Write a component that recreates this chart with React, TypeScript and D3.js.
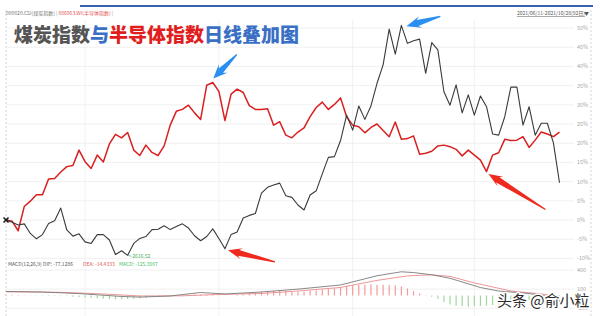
import React from 'react';
import * as d3 from 'd3';

const W = 600;
const H = 316;

// 煤炭指数 (black) cumulative % change, one value per trading day
const coal = [
  0, -0.6, -1.3, -1.0, -3.5, -4.9, -3.8, -0.9, -0.2, 3.1,
  -2.6, -4.2, -3.6, -5.7, -6.1, -3.8, -3.8, -5.2, -9.0, -8.0,
  -9.2, -6.1, -4.8, -4.3, -2.5, -2.4, -1.5, -2.5, -1.7, -1.0,
  -2.1, -4.1, -5.4, -4.3, -2.3, -4.8, -7.5, -3.8, -3.1, 0.5,
  1.2, 1.7, 7.0, 8.5, 9.1, 9.6, 6.3, 5.9, 3.9, 2.6,
  6.5, 7.6, 12.0, 16.3, 16.5, 20.7, 27.3, 23.4, 29.7, 26.2,
  29.7, 35.6, 40.4, 49.7, 43.2, 50.7, 46.0, 46.7, 47.1, 38.2,
  46.2, 44.3, 33.4, 29.9, 35.2, 27.9, 32.6, 27.3, 32.3, 29.5,
  22.4, 22.1, 26.9, 34.6, 34.6, 24.7, 29.5, 22.1, 25.2, 25.2,
  20.1, 9.7,
];

// 半导体指数 (red)
const semi = [
  0, -0.3, -2.8, 3.5, 4.9, 6.6, 6.6, 10.7, 10.8, 12.5,
  13.9, 14.2, 18.2, 15.2, 13.4, 16.9, 15.1, 19.8, 22.3, 21.4,
  22.8, 18.2, 16.8, 19.5, 17.6, 16.8, 19.3, 24.7, 28.3, 28.8,
  29.9, 27.9, 26.2, 35.1, 35.8, 33.5, 25.9, 32.8, 34.1, 33.2,
  29.8, 28.8, 28.8, 29.0, 24.7, 25.6, 22.1, 21.4, 22.9, 24.0,
  26.9, 29.3, 30.7, 28.8, 30.1, 31.8, 26.9, 24.7, 24.3, 22.7,
  24.1, 25.0, 23.3, 21.7, 25.5, 21.0, 21.2, 21.9, 17.1, 17.4,
  17.9, 19.3, 19.5, 19.1, 18.4, 16.7, 18.2, 16.9, 15.6, 12.6,
  16.9, 17.5, 21.0, 20.7, 20.8, 21.7, 18.9, 20.8, 22.9, 22.4,
  21.7, 22.9,
];

// MACD histogram (estimated per day)
const macdHist = [
  10, 12, 8, 5,
  -3, -5, -6, -8, -8, -10, -10,
  -20, -25, -30, -40, -45, -50, -55, -60, -60, -55, -50, -45,
  -35, -25, -15, -10, -5, 0, 5, 10,
  15, 20, 15, 10, 5, -5,
  0, 10, 20, 35, 45, 60, 70, 75, 80,
  70, 60, 55, 60, 70, 80, 90, 100, 110, 130, 150,
  160, 165, 170, 175, 170,
  170, 165, 160, 140, 110, 70, 30,
  -5, -20, -50,
  -100, -140, -160, -170, -175, -170, -165, -160,
  -150, -140, -120, -100, -90, -80, -70,
  -60, -50, -60, -90, -125,
];

const difDays = [0, 6, 12, 19, 22, 27, 32, 36, 42, 48, 55, 61, 65, 67, 70, 73, 78, 81, 85, 88, 91];
const difVals = [63, 55, 30, -15, -25, -8, 47, 24, 55, 100, 165, 310, 372, 360, 325, 270, 125, 70, 40, 8, -77];
const deaDays = [0, 9, 16, 22, 29, 35, 42, 48, 55, 61, 66, 70, 73, 77, 83, 88, 91];
const deaVals = [58, 50, 24, -8, -5, 16, 32, 70, 126, 237, 308, 324, 300, 197, 71, 24, -14];

const pctTicks = [50, 45, 40, 35, 30, 25, 20, 15, 10, 5, 0, -5, -10];
const macdTicks = [400, 100, -200];
const monthStarts = [13, 35, 57, 77];

const FONT = '"Noto Sans CJK SC", "Noto Sans", sans-serif';

function arrowPoints(tx: number, ty: number, ex: number, ey: number, headLen: number, headW: number, shaftW: number) {
  const dx = ex - tx, dy = ey - ty;
  const L = Math.hypot(dx, dy);
  const ux = dx / L, uy = dy / L;
  const nx = -uy, ny = ux;
  const p = (a: number, b: number) => [tx + ux * a + nx * b, ty + uy * a + ny * b];
  const pts = [
    p(0, 0),
    p(headLen, headW / 2),
    p(headLen * 0.78, shaftW / 2),
    p(L, 0.6),
    p(L, -0.6),
    p(headLen * 0.78, -shaftW / 2),
    p(headLen, -headW / 2),
  ];
  return pts.map((q) => q.map((v) => v.toFixed(1)).join(',')).join(' ');
}

export default function App() {
  const n = coal.length;
  const x = d3.scaleLinear().domain([0, n - 1]).range([6, 559.5]);
  const y = d3.scaleLinear().domain([0, 50]).range([220, 28]);
  const ym = d3.scaleLinear().domain([0, 400]).range([295.5, 270]);

  const pctLine = d3.line<number>().x((_, i) => x(i)).y((d) => y(d));
  const difLine = d3.line<number>().x((_, i) => x(difDays[i])).y((d) => ym(d));
  const deaLine = d3.line<number>().x((_, i) => x(deaDays[i])).y((d) => ym(d));

  const minIdx = d3.minIndex(coal);
  const coalPeak = d3.maxIndex(coal);
  const semiPeak = d3.maxIndex(semi);
  const lateSemi = semi.slice(60);
  const semiDip = 60 + d3.minIndex(lateSemi);
  const coalTrough = 36;

  return (
    <svg width={W} height={H} style={{ position: 'absolute', left: 0, top: 0, background: '#fff' }} fontFamily={FONT}>
      <rect x={0} y={0} width={W} height={H} fill="#fff" />
      {/* top blue bar */}
      <line x1={80} x2={593} y1={6} y2={6} stroke="#3561ad" strokeWidth={2} />
      {/* dashed borders */}
      <line x1={6} x2={6} y1={10} y2={316} stroke="#c8c8c8" strokeWidth={0.8} strokeDasharray="2,2" />
      <line x1={591} x2={591} y1={10} y2={316} stroke="#c8c8c8" strokeWidth={0.8} strokeDasharray="2,2" />

      {/* horizontal grid main */}
      {pctTicks.map((t) => (
        <g key={t}>
          <line x1={6} x2={574} y1={y(t)} y2={y(t)} stroke="#ececec" strokeWidth={0.8} />
          <text x={577} y={y(t) + 2} fontSize={5.5} fill="#a8a8a8">{t}%</text>
        </g>
      ))}
      {/* MACD grid */}
      {macdTicks.map((t) => (
        <g key={'m' + t}>
          <line x1={6} x2={574} y1={ym(t)} y2={ym(t)} stroke="#ececec" strokeWidth={0.8} />
          <text x={577} y={ym(t) + 2} fontSize={5.5} fill="#a8a8a8">{t}</text>
        </g>
      ))}
      {/* vertical grid */}
      {monthStarts.map((m) => (
        <line key={'v' + m} x1={x(m)} x2={x(m)} y1={20} y2={316} stroke="#ececec" strokeWidth={0.8} />
      ))}

      {/* legend */}
      <text x={6} y={15} fontSize={5} fill="#777">
        <tspan>000820.CSI(煤炭指数)</tspan>
        <tspan fill="#999"> | </tspan>
        <tspan fill="#e25555">886063.WI(半导体指数)</tspan>
        <tspan fill="#999"> |</tspan>
      </text>
      <text x={517} y={15} fontSize={5} fill="#555" textDecoration="underline">2021/06/11-2021/10/28(92日)</text>
      <text x={584} y={15} fontSize={5} fill="#555">▼</text>

      {/* title */}
      <text x={14} y={42} fontSize={19} fontWeight={900} stroke="#fff" strokeWidth={0.6} paintOrder="stroke">
        <tspan fill="#555555">煤炭指数</tspan>
        <tspan fill="#3a6fc6">与</tspan>
        <tspan fill="#e01e1e">半导体指数</tspan>
        <tspan fill="#3a6fc6">日线叠加图</tspan>
      </text>

      {/* series */}
      <path d={pctLine(semi) ?? ''} fill="none" stroke="#d91f1f" strokeWidth={1.5} strokeLinejoin="round" />
      <path d={pctLine(coal) ?? ''} fill="none" stroke="#3a3a3a" strokeWidth={1.1} strokeLinejoin="round" />
      {/* start marker */}
      <g stroke="#111" strokeWidth={1.4}>
        <line x1={x(0) - 2.5} x2={x(0) + 2.5} y1={y(0) - 2.5} y2={y(0) + 2.5} />
        <line x1={x(0) - 2.5} x2={x(0) + 2.5} y1={y(0) + 2.5} y2={y(0) - 2.5} />
      </g>
      {/* min label */}
      <line x1={x(minIdx)} x2={x(minIdx) + 4} y1={y(coal[minIdx])} y2={y(coal[minIdx]) + 1} stroke="#5bb8c8" strokeWidth={0.8} />
      <text x={x(minIdx) + 4.5} y={y(coal[minIdx]) + 2.8} fontSize={5} fill="#3fae5a">2616.52</text>

      {/* MACD label */}
      <text y={266} fontSize={5} fill="#555">
        <tspan x={8}>MACD(12,26,9)</tspan>
        <tspan x={43}>DIF: -77.1286</tspan>
        <tspan x={83} fill="#e05a5a">DEA: -14.4333</tspan>
        <tspan x={119} fill="#3fbf5f">MACD: -125.3907</tspan>
      </text>

      {/* MACD panel */}
      <g>
        {macdHist.map((v, i) => (
          <line key={'h' + i} x1={x(i)} x2={x(i)} y1={ym(0)} y2={ym(v)} stroke={v >= 0 ? '#f39a9a' : '#9fd89f'} strokeWidth={1.2} />
        ))}
        <path d={deaLine(deaVals) ?? ''} fill="none" stroke="#ec8a8a" strokeWidth={0.9} />
        <path d={difLine(difVals) ?? ''} fill="none" stroke="#7a7a7a" strokeWidth={0.9} />
      </g>

      {/* arrows */}
      <polygon points={arrowPoints(x(coalPeak) + 5, y(coal[coalPeak]) + 1, x(coalPeak) + 39, y(coal[coalPeak]) - 9, 15, 12, 6)} fill="#2a8ff0" />
      <polygon points={arrowPoints(x(semiPeak) + 0.5, y(semi[semiPeak]) - 4, x(semiPeak) + 24, y(semi[semiPeak]) - 28, 14, 12, 6)} fill="#2a8ff0" />
      <polygon points={arrowPoints(x(coalTrough) + 3, y(coal[coalTrough]) + 1.5, x(coalTrough) + 50, y(coal[coalTrough]) + 13, 14, 11, 6)} fill="#ee2a1f" />
      <polygon points={arrowPoints(x(semiDip) + 2, y(semi[semiDip]) + 2.5, x(semiDip) + 59, y(semi[semiDip]) + 38, 14, 11, 6)} fill="#ee2a1f" />

      {/* watermark */}
      <text x={497} y={306} fontSize={15} fill="#2a2a2a" stroke="#ffffff" strokeWidth={3} paintOrder="stroke" strokeLinejoin="round">头条 @俞小粒</text>
    </svg>
  );
}
